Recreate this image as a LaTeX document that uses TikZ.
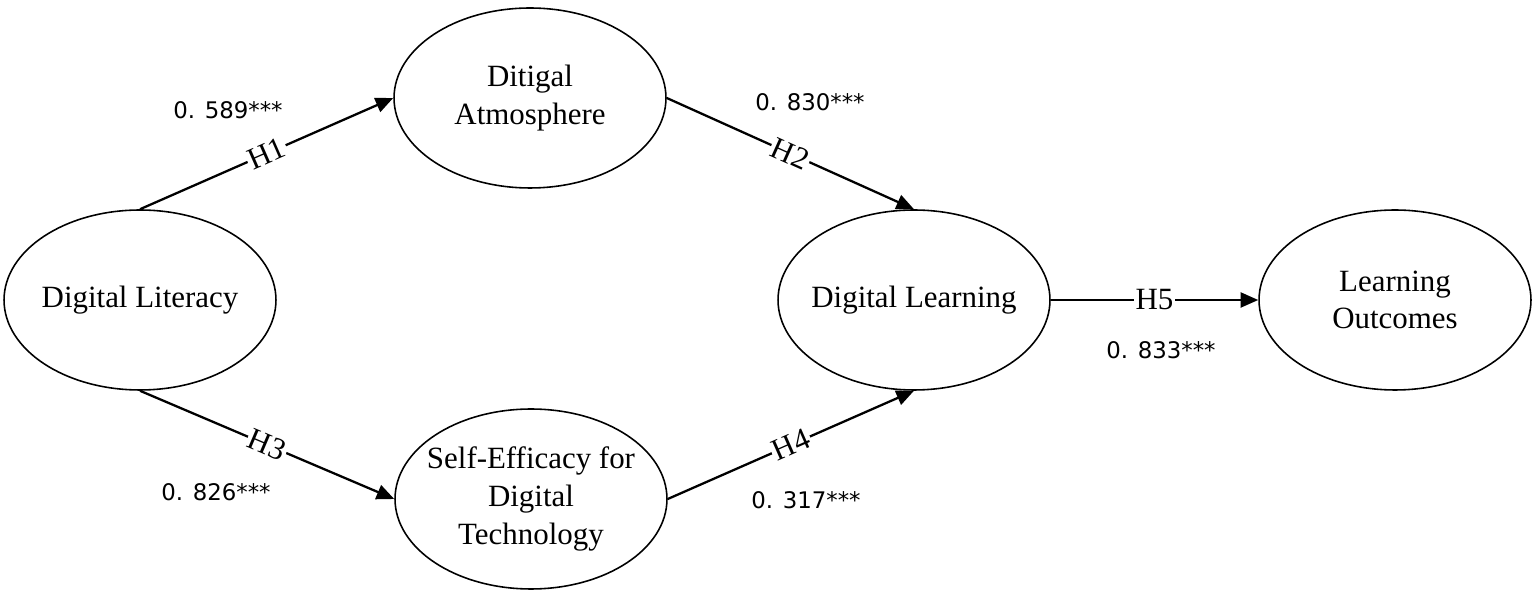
\documentclass[tikz,border=0pt]{standalone}
\usepackage{fontspec}
\setmainfont{Liberation Serif}
\newfontfamily\coeffont{DejaVu Sans}
\usetikzlibrary{arrows.meta, shapes.geometric, positioning}

\begin{document}
\begin{tikzpicture}[x=0.02cm, y=-0.02cm,
    construct/.style={draw, ellipse, line width=0.9pt, minimum width=5.44cm, minimum height=3.6cm, inner sep=-8pt, align=center, font=\fontsize{17.6}{21.5}\selectfont},
    link/.style={-{Triangle[length=10pt, width=8.5pt]}, line width=1.3pt},
    hyp/.style={sloped, midway, fill=white, inner sep=1pt, font=\fontsize{17.6}{21}\selectfont},
    coef/.style={font=\coeffont\fontsize{13}{15}\selectfont}]

    \useasboundingbox (0,0) rectangle (1535,597);

    % Latent constructs of the model
    \node[construct] (lit) at (140,300) {Digital Literacy};
    \node[construct] (atm) at (530,98) {Ditigal\\Atmosphere};
    \node[construct] (eff) at (531,499) {Self-Efficacy for\\Digital\\Technology};
    \node[construct] (learn) at (914,300) {Digital Learning};
    \node[construct] (outc) at (1395,300) {Learning\\Outcomes};

    % Hypothesised paths H1 to H5
    \draw[link] (lit.north) -- (atm.west) node[hyp] {H1};
    \draw[link] (atm.east) -- (learn.north) node[hyp] {H2};
    \draw[link] (lit.south) -- (eff.west) node[hyp] {H3};
    \draw[link] (eff.east) -- (learn.south) node[hyp] {H4};
    \draw[link] (learn.east) -- (outc.west) node[hyp] {H5};

    % Path coefficients
    \node[coef] (c1) at (228,110) {0. 589***};
    \node[coef] (c2) at (810,102) {0. 830***};
    \node[coef] (c3) at (216,492) {0. 826***};
    \node[coef] (c4) at (806,500) {0. 317***};
    \node[coef] (c5) at (1161,350) {0. 833***};
\end{tikzpicture}
\end{document}
